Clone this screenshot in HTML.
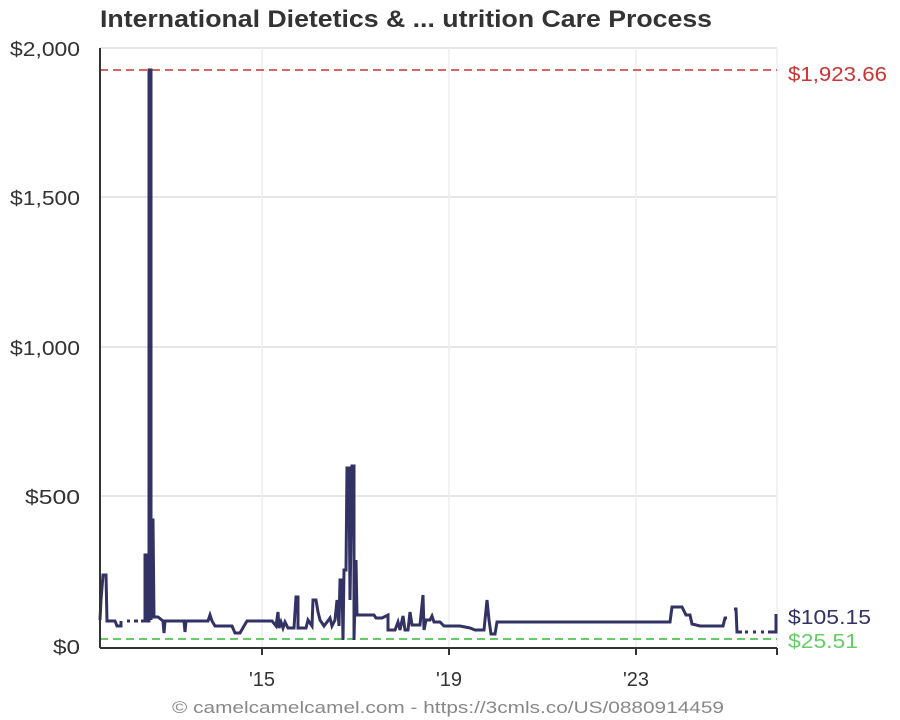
<!DOCTYPE html>
<html><head><meta charset="utf-8"><style>
body{margin:0;background:#fff;}
svg{display:block;font-family:"Liberation Sans",Arial,sans-serif;}
</style></head><body>
<svg width="900" height="720" viewBox="0 0 900 720">
<rect width="900" height="720" fill="#fff"/>
<text x="100" y="27" font-size="24" font-weight="bold" fill="#333" textLength="612" lengthAdjust="spacingAndGlyphs">International Dietetics &amp; ... utrition Care Process</text>
<g stroke="#ddd" stroke-width="1.5">
<line x1="100" y1="48" x2="777" y2="48"/>
<line x1="100" y1="197" x2="777" y2="197"/>
<line x1="100" y1="347" x2="777" y2="347"/>
<line x1="100" y1="496" x2="777" y2="496"/>
</g>
<g stroke="#eee" stroke-width="1.5">
<line x1="262" y1="48" x2="262" y2="647"/>
<line x1="449" y1="48" x2="449" y2="647"/>
<line x1="636" y1="48" x2="636" y2="647"/>
<line x1="777" y1="48" x2="777" y2="647"/>
</g>
<g fill="#333" font-size="20" text-anchor="end">
<text x="80" y="56" textLength="70" lengthAdjust="spacingAndGlyphs">$2,000</text>
<text x="80" y="205" textLength="70" lengthAdjust="spacingAndGlyphs">$1,500</text>
<text x="80" y="355" textLength="70" lengthAdjust="spacingAndGlyphs">$1,000</text>
<text x="80" y="504" textLength="55" lengthAdjust="spacingAndGlyphs">$500</text>
<text x="80" y="654" textLength="27" lengthAdjust="spacingAndGlyphs">$0</text>
</g>
<g fill="#333" font-size="20" text-anchor="middle">
<text x="262" y="686">'15</text>
<text x="449" y="686">'19</text>
<text x="636" y="686">'23</text>
</g>
<line x1="100" y1="70" x2="777" y2="70" stroke="#c33" stroke-width="1.5" stroke-dasharray="8,5"/>
<line x1="100" y1="639" x2="777" y2="639" stroke="#6c6" stroke-width="2" stroke-dasharray="8,5"/>
<g fill="none" stroke="#323264" stroke-width="3" stroke-linejoin="miter">
<polyline points="100,620 101,600 103,575 106,575 107,621 115,621 117,626 121,626 121,621"/>
<polyline points="127,621 130,621"/>
<polyline points="134,621 138,621"/>
<polyline points="141,621 145,621 145,555 147,555 147,621 149,621 149,70 151,70 151,620 152,520 153,520 154,617 158,617 163,621 164,633 165,621 184,621 185,632 186,621 208,621 210,615 212,621 215,626 232,626 235,633 240,633 244,626 247,621 272,621 276,626 278,612 279,628 281,622 283,628 285,622 288,628 294,628 296,597 298,597 298,628 306,628 308,620 312,626 313,600 316,600 318,612 320,620 324,626 330,618 332,626 335,620 337,600 338,612 339,626 340,580 342,580 343,640 344,570 346,570 347,468 349,468 350,600 352,466 354,466 354,640 356,560 357,615 366,615 374,615 376,618 382,618 388,615 388,630 395,630 398,622 400,630 403,616 405,630 408,630 410,612 412,625 420,625 423,595 424,630 426,620 430,620 432,616 434,622 440,622 444,626 452,626 460,626 470,628 475,630 484,630 487,600 489,620 491,634 495,634 497,622 505,622 670,622 672,607 682,607 686,615 690,615 692,624 700,626 723,626 725,618 727,618"/>
<polyline points="734,609 736,609 737,632 742,632"/>
<polyline points="745,632 748,632"/>
<polyline points="753,632 756,632"/>
<polyline points="761,632 764,632"/>
<polyline points="768,632 776,632 776,614"/>
</g>
<line x1="100" y1="48" x2="100" y2="648" stroke="#333" stroke-width="2"/>
<line x1="100" y1="648" x2="777" y2="648" stroke="#333" stroke-width="2"/>
<g stroke="#333" stroke-width="2">
<line x1="262" y1="648" x2="262" y2="655"/>
<line x1="449" y1="648" x2="449" y2="655"/>
<line x1="636" y1="648" x2="636" y2="655"/>
<line x1="777" y1="648" x2="777" y2="655"/>
</g>
<g font-size="20">
<text x="788" y="81" fill="#c33" textLength="99" lengthAdjust="spacingAndGlyphs">$1,923.66</text>
<text x="788" y="624" fill="#323264" textLength="83" lengthAdjust="spacingAndGlyphs">$105.15</text>
<text x="788" y="648" fill="#6c6" textLength="70" lengthAdjust="spacingAndGlyphs">$25.51</text>
</g>
<text x="172" y="713" font-size="17" fill="#888" textLength="552" lengthAdjust="spacingAndGlyphs">© camelcamelcamel.com - https://3cmls.co/US/0880914459</text>
</svg>
</body></html>
